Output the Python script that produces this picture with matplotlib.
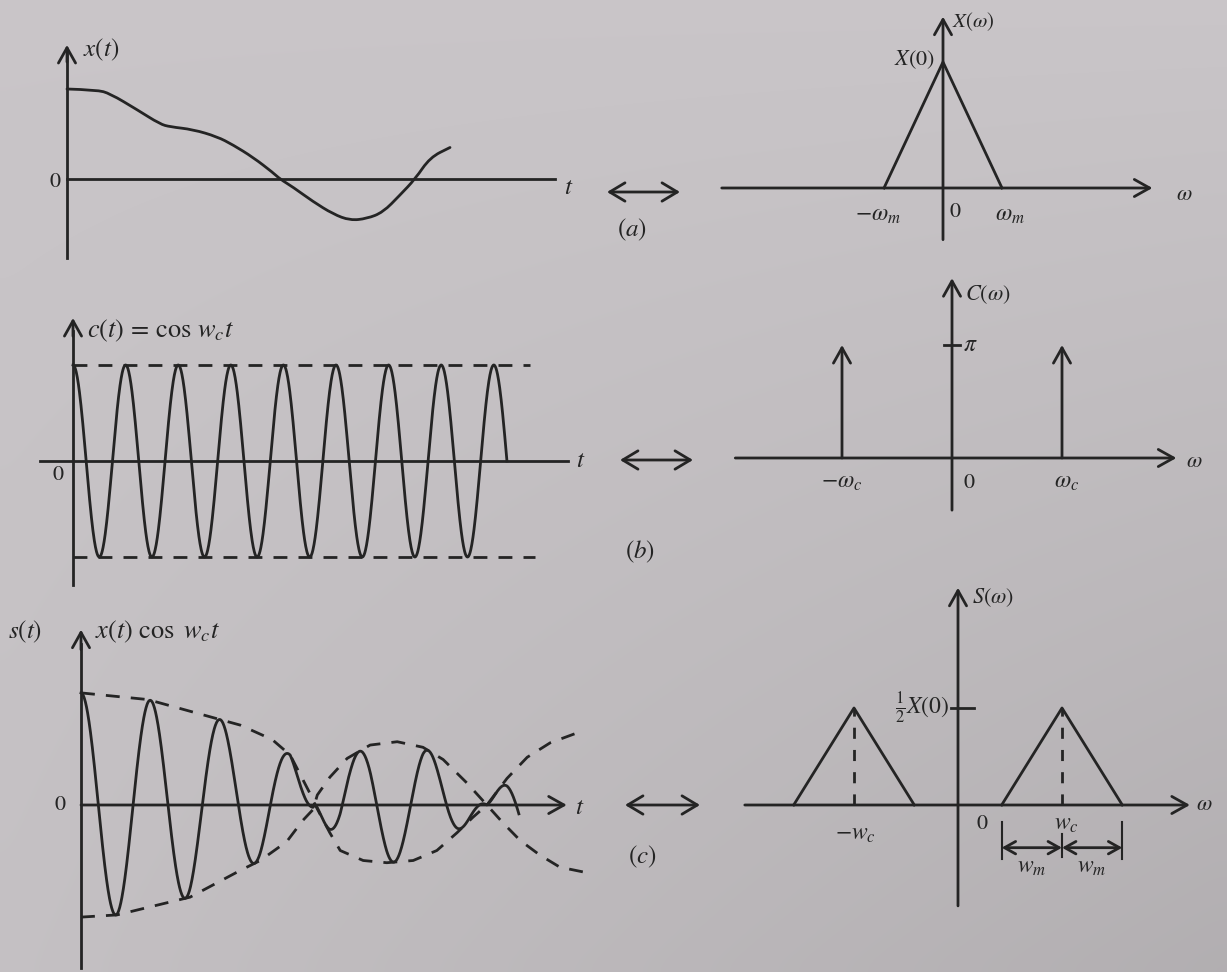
import numpy as np
import matplotlib
matplotlib.use("Agg")
import matplotlib.pyplot as plt
from matplotlib.path import Path
from matplotlib.patches import PathPatch

W, H = 1227, 972
INK = "#242424"
LW = 2.0

plt.rcParams["mathtext.fontset"] = "stix"
plt.rcParams["font.family"] = "STIXGeneral"

# --- (a) message signal x(t) and its spectrum -------------------------------
x_t = [0.0, 0.78, 1.12, 1.83, 2.43, 2.69, 3.29, 3.92, 4.33, 4.86, 5.38,
       5.56, 5.90, 6.42, 6.95, 7.39, 7.83, 8.25, 8.69, 9.09, 9.48, 10.0]
x_val = [1.00, 0.99, 0.95, 0.77, 0.61, 0.58, 0.55, 0.47, 0.38, 0.24, 0.07,
         0.0, -0.09, -0.25, -0.39, -0.46, -0.44, -0.37, -0.18, 0.0, 0.24, 0.35]
X_w = [-1.0, 0.0, 1.0]          # in units of w_m
X_val = [0.0, 1.0, 0.0]         # in units of X(0)

# --- (b) carrier cos(w_c t) and its impulses ---------------------------------
carrier_cycles = 8.25
imp_w = [-1.0, 1.0]             # in units of w_c
imp_h = [np.pi, np.pi]

# --- (c) modulated signal: the two dashed envelopes as sketched --------------
envA_t = [0.0, 0.96, 2.0, 2.29, 2.75, 3.01, 3.29, 3.37, 3.58, 3.73, 4.06,
          4.40, 4.78, 5.12, 5.41, 5.64, 5.84, 6.13, 6.42, 6.75, 7.14]
envA = [1.01, 0.95, 0.77, 0.72, 0.59, 0.45, 0.11, 0.0, -0.25, -0.41, -0.50,
        -0.52, -0.50, -0.41, -0.25, -0.11, 0.0, 0.24, 0.43, 0.56, 0.65]
envB_t = [0.0, 0.52, 1.57, 2.29, 2.58, 2.96, 3.19, 3.34, 3.40, 3.58, 3.83,
          4.16, 4.55, 4.92, 5.21, 5.55, 5.84, 6.07, 6.32, 6.60, 6.89, 7.28]
envB = [-1.01, -0.99, -0.83, -0.59, -0.50, -0.33, -0.14, -0.04, 0.09, 0.25,
        0.42, 0.54, 0.57, 0.52, 0.41, 0.20, 0.0, -0.16, -0.32, -0.45, -0.56,
        -0.61]
s_end = 6.3
S_center = [-1.0, 1.0]          # in units of w_c
S_half = 0.58                   # w_m / w_c
S_peak = 0.5                    # X(0)/2


fig = plt.figure(figsize=(W / 100, H / 100), dpi=100)

# paper background, slightly darker towards the lower right
bg = fig.add_axes([0, 0, 1, 1])
gx, gy = np.meshgrid(np.linspace(0, 1, 64), np.linspace(0, 1, 64))
shade = 0.79 - 0.07 * gx * gy - 0.02 * gy
bg.imshow(np.dstack([shade, shade * 0.98, shade * 0.995]), extent=(0, 1, 0, 1),
          aspect="auto", interpolation="bicubic")
bg.axis("off")


def panel(box, origin, unit):
    """Axes over pixel box (l, t, r, b); data (0, 0) sits at pixel origin."""
    l, t, r, b = box
    ax = fig.add_axes([l / W, 1 - b / H, (r - l) / W, (b - t) / H])
    ax.set_xlim((l - origin[0]) / unit[0], (r - origin[0]) / unit[0])
    ax.set_ylim((origin[1] - b) / unit[1], (origin[1] - t) / unit[1])
    ax.axis("off")
    return ax


def arrow(ax, x0, y0, x1, y1, style="->", scale=22):
    ax.annotate("", xy=(x1, y1), xytext=(x0, y0),
                arrowprops=dict(arrowstyle=f"{style},head_length=0.5,head_width=0.28",
                                lw=LW, color=INK, shrinkA=0, shrinkB=0,
                                mutation_scale=scale))


def label(ax, x, y, s, size=17, ha="center", va="center"):
    ax.text(x, y, s, fontsize=size, ha=ha, va=va, color=INK)


def smooth_line(ax, xs, ys):
    """Hand-drawn look: read points become quadratic Bezier control points."""
    pts = np.column_stack([xs, ys])
    verts = [pts[0]]
    codes = [Path.MOVETO]
    for i in range(1, len(pts) - 1):
        verts += [pts[i], (pts[i] + pts[i + 1]) / 2]
        codes += [Path.CURVE3, Path.CURVE3]
    verts.append(pts[-1])
    codes.append(Path.LINETO)
    ax.add_patch(PathPatch(Path(verts, codes), fill=False, lw=LW, ec=INK,
                           capstyle="round", joinstyle="round"))


def fig_double_arrow(x0, x1, y):
    bg.annotate("", xy=(x1 / W, 1 - y / H), xytext=(x0 / W, 1 - y / H),
                xycoords="axes fraction", textcoords="axes fraction",
                arrowprops=dict(arrowstyle="<->,head_length=0.5,head_width=0.3",
                                lw=LW, color=INK, shrinkA=0, shrinkB=0,
                                mutation_scale=22))


def tag(x, y, s):
    fig.text(x / W, 1 - y / H, s, fontsize=18, ha="center", va="center", color=INK)


# ---------------- (a) left: x(t) ----------------
ax = panel((0, 0, 600, 270), (67, 179), (38.3, 90))
ax.plot([0, 0], [-0.88, 1.40], color=INK, lw=LW)
arrow(ax, 0, 1.3, 0, 1.49)
ax.plot([0, 12.74], [0, 0], color=INK, lw=LW)
smooth_line(ax, x_t, x_val)
label(ax, 0.42, 1.44, "$x(t)$", 18, ha="left")
label(ax, -0.31, -0.03, "0", 16)
label(ax, 13.1, -0.1, "$t$", 18)

# ---------------- (a) right: X(w) ----------------
ax = panel((700, 0, 1227, 270), (943, 188), (59, 126))
arrow(ax, -3.75, 0, 3.55, 0)
arrow(ax, 0, -0.41, 0, 1.36)
ax.plot(X_w, X_val, color=INK, lw=LW)
label(ax, 0.15, 1.32, r"$X(\omega)$", 15, ha="left")
label(ax, -0.14, 1.02, "$X(0)$", 16, ha="right")
label(ax, -1.1, -0.22, r"$-\omega_m$", 17)
label(ax, 0.2, -0.19, "0", 16)
label(ax, 1.13, -0.22, r"$\omega_m$", 17)
label(ax, 3.95, -0.06, r"$\omega$", 16, ha="left")

fig_double_arrow(607, 680, 192)
tag(632, 230, "$(a)$")

# ---------------- (b) left: c(t) ----------------
ax = panel((0, 270, 610, 600), (73, 461), (52.6, 96))
ax.plot([0, 0], [-1.29, 1.35], color=INK, lw=LW)
arrow(ax, 0, 1.3, 0, 1.49)
ax.plot([-0.63, 9.41], [0, 0], color=INK, lw=LW)
ct = np.linspace(0, carrier_cycles, 1200)
ax.plot(ct, np.cos(2 * np.pi * ct), color=INK, lw=LW)
ax.plot([0, 8.69], [1, 1], color=INK, lw=LW, ls=(0, (5, 4)))
ax.plot([0, 8.78], [-1, -1], color=INK, lw=LW, ls=(0, (5, 4)))
label(ax, 0.26, 1.36, r"$c(t)\,=\,\cos\,w_c t$", 19, ha="left")
label(ax, -0.29, -0.15, "0", 16)
label(ax, 9.66, 0.0, "$t$", 18)

# ---------------- (b) right: C(w) ----------------
ax = panel((700, 270, 1227, 600), (952, 458), (110, 113 / np.pi))
arrow(ax, -1.97, 0, 2.04, 0)
arrow(ax, 0, -1.45, 0, 5.0)
for w, h in zip(imp_w, imp_h):
    arrow(ax, w, 0, w, h)
ax.plot([-0.07, 0.07], [np.pi, np.pi], color=INK, lw=LW)
label(ax, 0.1, np.pi, r"$\pi$", 17, ha="left")
label(ax, 0.12, 4.53, r"$C(\omega)$", 16, ha="left")
label(ax, -1.0, -0.68, r"$-\omega_c$", 17)
label(ax, 0.15, -0.7, "0", 16)
label(ax, 1.04, -0.68, r"$\omega_c$", 17)
label(ax, 2.13, -0.11, r"$\omega$", 16, ha="left")

fig_double_arrow(620, 693, 460)
tag(640, 552, "$(b)$")

# ---------------- (c) left: s(t) ----------------
ax = panel((0, 580, 610, 972), (81, 805), (69.5, 111))
ax.plot([0, 0], [-1.47, 1.45], color=INK, lw=LW)
arrow(ax, 0, 1.4, 0, 1.58)
arrow(ax, 0, 0, 6.99, 0)
ax.plot(envA_t, envA, color=INK, lw=LW, ls=(0, (5, 4)))
ax.plot(envB_t, envB, color=INK, lw=LW, ls=(0, (5, 4)))
st = np.linspace(0, s_end, 1200)
a_st = np.interp(st, envA_t, envA)
b_st = np.interp(st, envB_t, envB)
hi, lo = np.maximum(a_st, b_st), np.minimum(a_st, b_st)
s_val = (hi + lo) / 2 + (hi - lo) / 2 * np.cos(2 * np.pi * st)
ax.plot(st, s_val, color=INK, lw=LW)
label(ax, -0.8, 1.56, "$s(t)$", 18)
label(ax, 0.2, 1.56, r"$x(t)\ \cos\ w_c t$", 19, ha="left")
label(ax, -0.3, 0.0, "0", 16)
label(ax, 7.18, -0.03, "$t$", 18)

# ---------------- (c) right: S(w) ----------------
ax = panel((700, 580, 1227, 972), (958, 805), (104, 194))
arrow(ax, -2.05, 0, 2.23, 0)
arrow(ax, 0, -0.52, 0, 1.12)
for c in S_center:
    ax.plot([c - S_half, c, c + S_half], [0, S_peak, 0], color=INK, lw=LW)
    ax.plot([c, c], [0, S_peak], color=INK, lw=LW, ls=(0, (4, 4)))
ax.plot([-0.07, 0.15], [S_peak, S_peak], color=INK, lw=LW)
label(ax, -0.09, S_peak, r"$\frac{1}{2}X(0)$", 17, ha="right")
label(ax, 0.13, 1.07, r"$S(\omega)$", 16, ha="left")
label(ax, -0.99, -0.15, r"$-w_c$", 17)
label(ax, 0.23, -0.1, "0", 16)
label(ax, 1.04, -0.1, r"$w_c$", 17)
label(ax, 2.29, 0.0, r"$\omega$", 16, ha="left")
# bandwidth markers under the right-hand copy
c = S_center[1]
for x in (c - S_half, c + S_half):
    ax.plot([x, x], [-0.09, -0.28], color=INK, lw=1.5)
ax.plot([c, c], [-0.15, -0.27], color=INK, lw=1.5)
arrow(ax, c, -0.22, c - S_half, -0.22, style="<->", scale=16)
arrow(ax, c, -0.22, c + S_half, -0.22, style="<->", scale=16)
label(ax, c - S_half / 2, -0.32, "$w_m$", 17)
label(ax, c + S_half / 2, -0.32, "$w_m$", 17)

fig_double_arrow(625, 700, 805)
tag(642, 857, "$(c)$")

fig.savefig("out.png", dpi=100)
